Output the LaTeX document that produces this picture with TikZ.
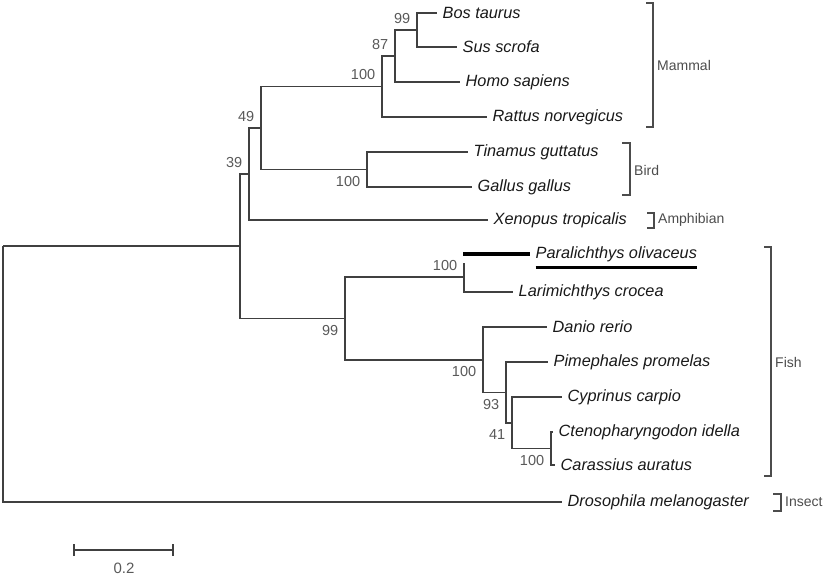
\documentclass[tikz,border=0pt]{standalone}
\usepackage{fontspec}
\setmainfont{Liberation Sans}
\usetikzlibrary{arrows.meta}

\begin{document}
\begin{tikzpicture}[x=1pt,y=-1pt,
	branch/.style={draw=black!75,line width=1.8pt},
	hilite/.style={draw=black,line width=3.2pt},
	taxon/.style={anchor=west,inner sep=5.5pt,font=\fontsize{16.3}{18}\selectfont\itshape,text=black!90},
	boot/.style={inner sep=1pt,font=\fontsize{14.5}{16}\selectfont,text=black!65},
	group/.style={anchor=west,inner sep=4pt,font=\fontsize{14}{16}\selectfont,text=black!70},
	bracket/.style={draw=black!70,line width=1.8pt},
	label distance=8pt]
	\useasboundingbox (0,0) rectangle (827,576);
	% leaves
	\node[taxon] (bos) at (437,13) {Bos taurus};
	\node[taxon] (sus) at (457,47) {Sus scrofa};
	\node[taxon] (homo) at (460,82) {Homo sapiens};
	\node[taxon] (rattus) at (487,117) {Rattus norvegicus};
	\node[taxon] (tinamus) at (468,152) {Tinamus guttatus};
	\node[taxon] (gallus) at (472,187) {Gallus gallus};
	\node[taxon] (xenopus) at (488,220) {Xenopus tropicalis};
	\node[taxon] (para) at (530,254) {Paralichthys olivaceus};
	\node[taxon] (lari) at (513,292) {Larimichthys crocea};
	\node[taxon] (danio) at (547,327) {Danio rerio};
	\node[taxon] (pime) at (548,362) {Pimephales promelas};
	\node[taxon] (cypr) at (562,397) {Cyprinus carpio};
	\node[taxon] (cteno) at (553,432) {Ctenopharyngodon idella};
	\node[taxon] (cara) at (555,465) {Carassius auratus};
	\node[taxon] (droso) at (562,502) {Drosophila melanogaster};
	% inner nodes
	\coordinate (root) at (3,246);
	\coordinate (nvert) at (240,246);
	\coordinate[label={[boot]above left:39}] (ntetra) at (249,174);
	\coordinate[label={[boot]above left:49}] (namniote) at (261,128);
	\coordinate[label={[boot]above left:100}] (nmam) at (382,86.5);
	\coordinate[label={[boot]above left:87}] (n87) at (395,56);
	\coordinate[label={[boot]above left:99}] (n99) at (417,30);
	\coordinate[label={[boot]below left:100}] (nbird) at (367,169.5);
	\coordinate[label={[boot]below left:99}] (nfish) at (345,318.5);
	\coordinate[label={[boot]above left:100}] (npara) at (464,277);
	\coordinate (stub) at (464,263);
	\coordinate (parastart) at (463,254);
	\coordinate[label={[boot]below left:100}] (ncyp) at (483,360);
	\coordinate[label={[boot]below left:93}] (n93) at (506,392.5);
	\coordinate[label={[boot]below left:41}] (n41) at (512,423);
	\coordinate[label={[boot]below left:100}] (ncar) at (551,448.5);
	% branches
	\draw[branch] (root) -- (nvert);
	\draw[branch] (root) |- (droso.west);
	\draw[branch] (nvert) |- (ntetra);
	\draw[branch] (nvert) |- (nfish);
	\draw[branch] (ntetra) |- (namniote);
	\draw[branch] (ntetra) |- (xenopus.west);
	\draw[branch] (namniote) |- (nmam);
	\draw[branch] (namniote) |- (nbird);
	\draw[branch] (nmam) |- (n87);
	\draw[branch] (nmam) |- (rattus.west);
	\draw[branch] (n87) |- (n99);
	\draw[branch] (n87) |- (homo.west);
	\draw[branch] (n99) |- (bos.west);
	\draw[branch] (n99) |- (sus.west);
	\draw[branch] (nbird) |- (tinamus.west);
	\draw[branch] (nbird) |- (gallus.west);
	\draw[branch] (nfish) |- (npara);
	\draw[branch] (nfish) |- (ncyp);
	\draw[branch] (npara) -- (stub);
	\draw[branch] (npara) |- (lari.west);
	\draw[hilite] (parastart) -- (para.west);
	\draw[hilite] ([xshift=5.5pt]para.south west) -- ([xshift=-5.5pt]para.south east);
	\draw[branch] (ncyp) |- (danio.west);
	\draw[branch] (ncyp) |- (n93);
	\draw[branch] (n93) |- (pime.west);
	\draw[branch] (n93) |- (n41);
	\draw[branch] (n41) |- (cypr.west);
	\draw[branch] (n41) |- (ncar);
	\draw[branch] (ncar) |- (cteno.west);
	\draw[branch] (ncar) |- (cara.west);
	% groups
	\draw[bracket] (646,3) -- (653,3) -- (653,127) -- (646,127);
	\node[group] (mammal) at (653,65) {Mammal};
	\draw[bracket] (622,143) -- (630,143) -- (630,195) -- (622,195);
	\node[group] (bird) at (630,170) {Bird};
	\draw[bracket] (647,213) -- (654,213) -- (654,228) -- (647,228);
	\node[group] (amphibian) at (654,220) {Amphibian};
	\draw[bracket] (764,247) -- (771,247) -- (771,476) -- (764,476);
	\node[group] (fish) at (771,362) {Fish};
	\draw[bracket] (773,494) -- (781,494) -- (781,511) -- (773,511);
	\node[group] (insect) at (781,502) {Insect};
	% scale
	\coordinate (sbl) at (73,550);
	\coordinate (sbr) at (174,550);
	\draw[branch,{Bar[width=12pt]}-{Bar[width=12pt]}] (sbl) -- (sbr);
	\node[boot,font=\fontsize{15}{17}\selectfont] (scale) at (124,568) {0.2};
\end{tikzpicture}
\end{document}
